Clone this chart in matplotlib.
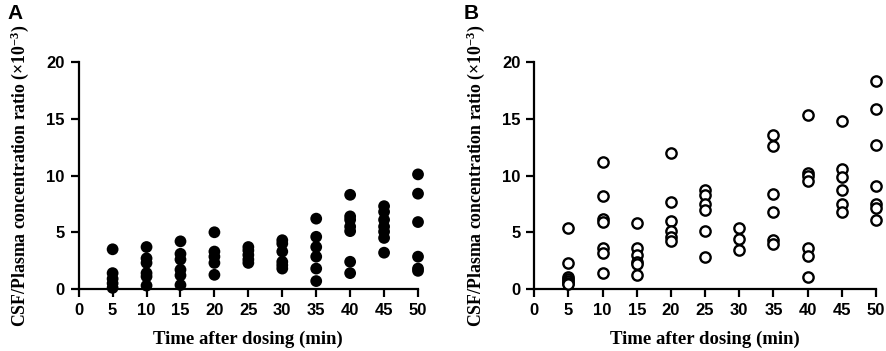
import matplotlib.pyplot as plt
import numpy as np

times = [5, 10, 15, 20, 25, 30, 35, 40, 45, 50]

# panel A, filled dots
ratio_a = [
    [3.5, 1.4, 0.9, 0.5, 0.1],
    [3.7, 2.7, 2.3, 1.4, 1.1, 0.3],
    [4.2, 3.1, 2.6, 1.7, 1.2, 0.35],
    [5.0, 3.3, 2.85, 2.3, 1.25],
    [3.7, 3.4, 3.0, 2.6, 2.3],
    [4.3, 4.0, 3.3, 2.4, 2.1, 1.8],
    [6.2, 4.6, 3.7, 2.85, 1.8, 0.7],
    [8.3, 6.4, 6.1, 5.5, 5.1, 2.4, 1.4],
    [7.3, 6.8, 6.1, 5.5, 5.05, 4.5, 3.2],
    [10.1, 8.4, 5.9, 2.85, 1.8, 1.6],
]

# panel B, open circles
ratio_b = [
    [5.4, 2.3, 1.1, 0.9, 0.7, 0.5, 0.4],
    [11.2, 8.2, 6.2, 5.9, 3.6, 3.2, 1.4],
    [5.8, 3.6, 3.0, 2.4, 2.2, 1.2],
    [12.0, 7.7, 6.0, 5.1, 4.6, 4.2],
    [8.7, 8.3, 7.5, 7.0, 5.1, 2.8],
    [5.35, 4.4, 3.45],
    [13.6, 12.6, 8.35, 6.75, 4.3, 4.0],
    [15.35, 10.2, 10.0, 9.5, 3.65, 2.95, 1.1],
    [14.8, 10.6, 9.85, 8.7, 7.45, 6.75],
    [18.3, 15.85, 12.7, 9.1, 7.5, 7.1, 6.1],
]

xticks = [0, 5, 10, 15, 20, 25, 30, 35, 40, 45, 50]
yticks = [0, 5, 10, 15, 20]

serif = ['Liberation Serif', 'DejaVu Serif']
sans = ['Liberation Sans', 'DejaVu Sans']

plt.rcParams['mathtext.fontset'] = 'custom'
plt.rcParams['mathtext.rm'] = 'Liberation Serif:bold'
plt.rcParams['mathtext.default'] = 'rm'

fig = plt.figure(figsize=(8.86, 3.51), dpi=100)
ax_a = fig.add_axes([0.0888, 0.1766, 0.383, 0.6467])
ax_b = fig.add_axes([0.603, 0.1766, 0.3857, 0.6467])


def style(ax):
    ax.set_xlim(0, 50)
    ax.set_ylim(0, 20)
    ax.spines['top'].set_visible(False)
    ax.spines['right'].set_visible(False)
    for s in ('left', 'bottom'):
        ax.spines[s].set_linewidth(1.6)
    ax.tick_params(width=1.6, length=6, direction='out', pad=4)
    ax.set_xticks(xticks)
    ax.set_yticks(yticks)
    ax.set_xticklabels([str(t) for t in xticks], family=sans,
                       fontweight='bold', fontsize=12)
    ax.set_yticklabels([str(t) for t in yticks], family=sans,
                       fontweight='bold', fontsize=12)
    ax.set_xlabel('Time after dosing (min)', family=serif,
                  fontweight='bold', fontsize=13.5, labelpad=9)
    ax.set_ylabel('CSF/Plasma concentration ratio ($\\times10^{-3}$)',
                  family=serif, fontweight='bold', fontsize=12.8, labelpad=11)


for t, vals in zip(times, ratio_a):
    ax_a.scatter([t] * len(vals), vals, s=72, color='black',
                 edgecolors='none', clip_on=False, zorder=3)

for t, vals in zip(times, ratio_b):
    ax_b.scatter([t] * len(vals), vals, s=55, facecolors='white',
                 edgecolors='black', linewidths=1.7, clip_on=False, zorder=3)

style(ax_a)
style(ax_b)

fig.text(0.008, 0.99, 'A', family=sans, fontweight='bold', fontsize=15,
         va='top', ha='left')
fig.text(0.523, 0.99, 'B', family=sans, fontweight='bold', fontsize=15,
         va='top', ha='left')

fig.savefig('out.png', dpi=100)
